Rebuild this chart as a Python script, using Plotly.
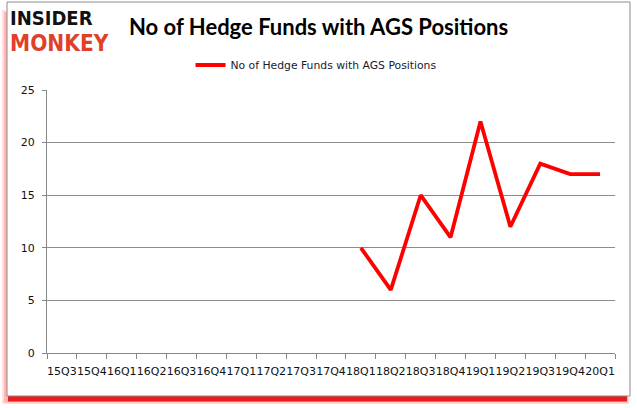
import plotly.graph_objects as go

quarters = ["15Q3", "15Q4", "16Q1", "16Q2", "16Q3", "16Q4", "17Q1", "17Q2", "17Q3", "17Q4",
            "18Q1", "18Q2", "18Q3", "18Q4", "19Q1", "19Q2", "19Q3", "19Q4", "20Q1"]
hedge_funds = [None, None, None, None, None, None, None, None, None, None,
               10, 6, 15, 11, 22, 12, 18, 17, 17]
series_name = "No of Hedge Funds with AGS Positions"
y_ticks = [0, 5, 10, 15, 20, 25]

W, H = 637, 408
L, R, T, B = 47, 22, 90, 55
PW = W - L - R
PH = H - T - B


def px(x):
    return (x - L) / PW


def py(y):
    return (H - B - y) / PH


def rect(x0, y0, x1, y1, fill, line=None):
    return dict(type="rect", xref="paper", yref="paper", x0=px(x0), x1=px(x1),
                y0=py(y0), y1=py(y1), fillcolor=fill,
                line=line if line else dict(width=0), layer="below")


fig = go.Figure()
fig.add_trace(go.Scatter(
    x=quarters, y=hedge_funds, mode="lines", name=series_name,
    line=dict(color="#ff0000", width=3.8), connectgaps=False,
))

shapes = [
    rect(2, 10, 629, 404, "rgba(255,110,110,0.22)"),
    rect(4, 12, 628, 402.5, "rgba(255,90,90,0.30)"),
    rect(8, 396, 627, 401.5, "rgba(235,0,0,0.85)"),
    rect(7, 2, 630, 396, "white", dict(color="#8c8c8c", width=1)),
]

annotations = [
    dict(text="<b>INSIDER</b>", xref="paper", yref="paper", x=px(8), y=py(18), xanchor="left",
         yanchor="middle", showarrow=False,
         font=dict(family="DejaVu Sans Condensed, DejaVu Sans", size=20, color="#111111")),
    dict(text="<b>MONKEY</b>", xref="paper", yref="paper", x=px(8), y=py(43), xanchor="left",
         yanchor="middle", showarrow=False,
         font=dict(family="DejaVu Sans Condensed, DejaVu Sans", size=22.5, color="#e0402a")),
    dict(text="<b>No of Hedge Funds with AGS Positions</b>", xref="paper", yref="paper",
         x=px(127), y=py(26.5), xanchor="left", yanchor="middle", showarrow=False,
         font=dict(family="Lato", size=22, color="#000000")),
]

fig.update_layout(
    width=W, height=H,
    margin=dict(l=L, r=R, t=T, b=B, autoexpand=False),
    paper_bgcolor="white", plot_bgcolor="rgba(0,0,0,0)",
    shapes=shapes, annotations=annotations,
    showlegend=True,
    legend=dict(orientation="h", x=px(316), xanchor="center", y=py(65), yanchor="middle",
                font=dict(family="DejaVu Sans", size=10.8, color="#1a1a2a"),
                bgcolor="rgba(0,0,0,0)"),
    xaxis=dict(type="category", categoryorder="array", categoryarray=quarters,
               tickson="boundaries", ticks="outside", ticklen=5, tickcolor="#888888",
               showline=True, linecolor="#888888", linewidth=1, showgrid=False,
               tickfont=dict(family="DejaVu Sans", size=11, color="#111111"),
               tickangle=0, ticklabelstandoff=8, range=[-0.5, 18.5]),
    yaxis=dict(range=[0, 25], tickvals=y_ticks, showgrid=True, gridcolor="#8c8c8c",
               gridwidth=1, showline=True, linecolor="#888888", linewidth=1,
               ticks="outside", ticklen=4, tickcolor="#888888", zeroline=False,
               tickfont=dict(family="DejaVu Sans", size=11, color="#111111"),
               ticklabelstandoff=5),
)

fig.write_html("out.html", config={"displayModeBar": False},
               post_script="document.body.style.margin='0';document.body.style.overflow='hidden';")
